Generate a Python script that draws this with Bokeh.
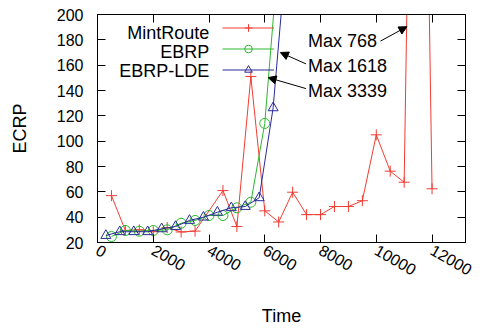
import math
from bokeh.plotting import figure
from bokeh.models import (Range1d, LinearAxis, FixedTicker, Legend, LegendItem,
                          Label, Arrow, NormalHead)
from bokeh.embed import file_html
from bokeh.resources import INLINE

# ---------------- data ----------------
mint_time = [500, 1000, 1500, 2000, 2500, 3000, 3500, 4500, 5000, 5500, 6000, 6500,
             7000, 7500, 8000, 8500, 9000, 9500, 10000, 10500, 11000, 11500, 12000]
mint_ecrp = [57, 29.5, 30, 28.5, 31.8, 28.3, 29, 61, 32.6, 151, 45, 36.2,
             59.7, 42, 42, 48.4, 48.4, 53, 105, 76.3, 67.6, 768, 62.4]

ebrp_time = [500, 1000, 1500, 2000, 2500, 3000, 3500, 4000, 4500, 5000, 5500, 6000, 6500]
ebrp_ecrp = [24.7, 29.5, 28.9, 29.5, 30, 35.2, 37.4, 41.3, 41.3, 47.4, 51.8, 114, 250]

lde_time = [300, 800, 1300, 1800, 2300, 2800, 3300, 3800, 4300, 4800, 5300, 5800, 6300, 6800]
lde_ecrp = [25.5, 28.5, 28.5, 28.5, 30.8, 32.6, 37.4, 40, 43.9, 47.4, 48.4, 55.3, 126.3, 255]

x_ticks = [0, 2000, 4000, 6000, 8000, 10000, 12000]
y_ticks = [20, 40, 60, 80, 100, 120, 140, 160, 180, 200]

series_names = ["MintRoute", "EBRP", "EBRP-LDE"]
max_labels = ["Max 768", "Max 1618", "Max 3339"]

FONT = "Liberation Sans"
RED, GREEN, BLUE = "#f03c32", "#2cb82c", "#2a2a9c"

p = figure(width=489, height=334, output_backend="svg", toolbar_location=None,
           x_range=Range1d(0, 13200), y_range=Range1d(20, 200),
           min_border_left=97, min_border_right=24, min_border_top=14, min_border_bottom=92,
           x_axis_label="Time", y_axis_label="ECRP")
p.grid.visible = False
p.outline_line_color = "black"
p.outline_line_width = 1
p.background_fill_color = "white"
p.border_fill_color = "white"

def style_axis(ax, ticks, show_labels=True):
    ax.ticker = FixedTicker(ticks=ticks)
    ax.major_tick_in = 8
    ax.major_tick_out = 0
    ax.minor_tick_line_color = None
    ax.major_tick_line_color = "black"
    ax.axis_line_color = "black"
    ax.major_label_text_font = FONT
    ax.major_label_text_color = "black"
    ax.axis_label_text_font = FONT
    ax.axis_label_text_font_style = "normal"
    ax.axis_label_text_font_size = "18px"
    ax.axis_label_text_color = "black"
    if not show_labels:
        # mirror axis: ticks only, labels not drawn
        ax.major_label_text_font_size = "1px"
        ax.major_label_text_color = None
        ax.major_label_standoff = 0

xa = p.xaxis[0]
ya = p.yaxis[0]
style_axis(xa, x_ticks)
style_axis(ya, y_ticks)
xa.major_label_text_font_size = "16px"
ya.major_label_text_font_size = "16px"
xa.major_label_orientation = -0.52
xa.major_label_standoff = 6
xa.axis_label_standoff = 22
ya.major_label_standoff = 14
ya.axis_label_standoff = 24

top = LinearAxis()
style_axis(top, x_ticks, show_labels=False)
p.add_layout(top, "above")
right = LinearAxis()
style_axis(right, y_ticks, show_labels=False)
p.add_layout(right, "right")

# ---------------- series ----------------
l1 = p.line(mint_time, mint_ecrp, color=RED, line_width=1)
s1 = p.scatter(mint_time, mint_ecrp, marker="cross", size=11, line_color=RED, line_width=1)
l2 = p.line(ebrp_time, ebrp_ecrp, color=GREEN, line_width=1)
s2 = p.scatter(ebrp_time, ebrp_ecrp, marker="circle", size=10, line_color=GREEN,
               fill_color=None, line_width=1)
l3 = p.line(lde_time, lde_ecrp, color=BLUE, line_width=1)
s3 = p.scatter(lde_time, lde_ecrp, marker="triangle", size=10, line_color=BLUE,
               fill_color=None, line_width=1)

# legend: gnuplot style, key sample drawn by the legend, text drawn right-aligned on its left
legend = Legend(items=[LegendItem(label=series_names[0], renderers=[l1, s1]),
                       LegendItem(label=series_names[1], renderers=[l2, s2]),
                       LegendItem(label=series_names[2], renderers=[l3, s3])],
                location=(125, 162), glyph_width=52, glyph_height=19, label_height=19,
                spacing=0, padding=0, margin=0, label_standoff=0,
                label_text_font=FONT, label_text_font_size="18px",
                label_text_color=None, border_line_color=None,
                background_fill_alpha=0)
p.add_layout(legend)

legend_text_pos = [(4010, 185.7), (4010, 170.7), (4010, 155.7)]
for name, (lx, ly) in zip(series_names, legend_text_pos):
    p.add_layout(Label(x=lx, y=ly, text=name, text_font=FONT, text_font_size="18px",
                       text_align="right", text_baseline="middle", text_color="black"))

# ---------------- annotations ----------------
label_pos = [(7550, 179), (7550, 159.7), (7550, 140)]
arrows = [((10150, 179), (11100, 190.4)),
          ((7480, 161), (6560, 170)),
          ((7480, 141.5), (6120, 150.2))]
for txt, (lx, ly) in zip(max_labels, label_pos):
    p.add_layout(Label(x=lx, y=ly, text=txt, text_font=FONT, text_font_size="18px",
                       text_baseline="middle", text_color="black"))
for (a, b) in arrows:
    p.add_layout(Arrow(x_start=a[0], y_start=a[1], x_end=b[0], y_end=b[1],
                       line_color="black", line_width=1,
                       end=NormalHead(size=8, fill_color="black", line_color="black")))

open("out.html", "w").write(file_html(p, INLINE))
